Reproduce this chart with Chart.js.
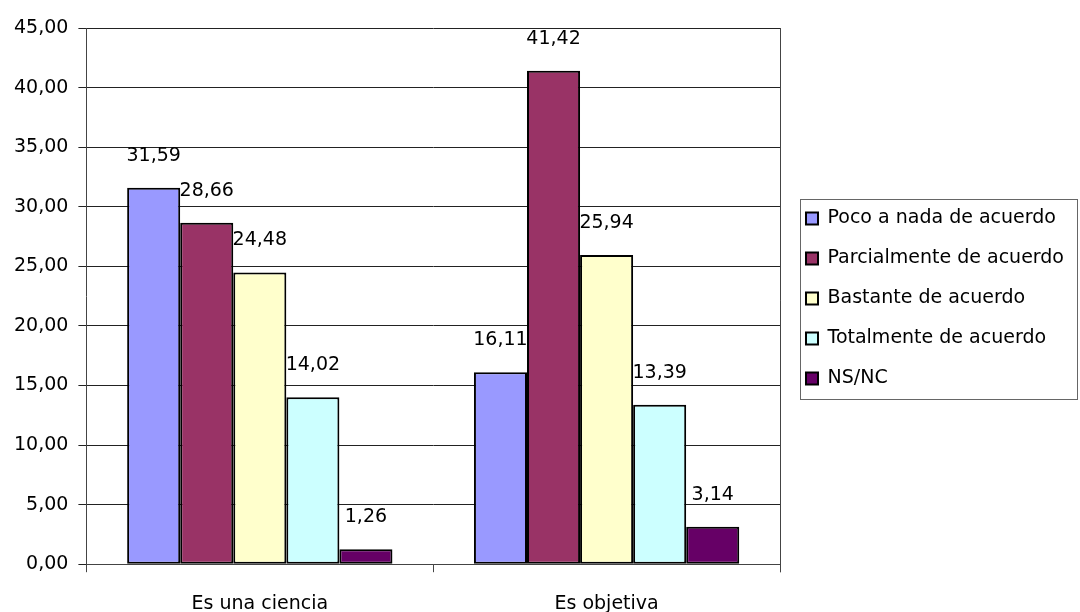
<!DOCTYPE html>
<html>
<head>
<meta charset="utf-8">
<script src="https://cdn.jsdelivr.net/npm/chart.js@4.4.0/dist/chart.umd.min.js"></script>
<style>
  html, body { margin: 0; padding: 0; background: #fff; }
  #wrap { width: 1080px; height: 612px; }
</style>
</head>
<body>
<div id="wrap"><canvas id="barChart"></canvas></div>
<script>
var categorias = ['Es una ciencia', 'Es objetiva'];
var series = ['Poco a nada de acuerdo', 'Parcialmente de acuerdo', 'Bastante de acuerdo', 'Totalmente de acuerdo', 'NS/NC'];
var pocoNada = [31.59, 16.11];
var parcialmente = [28.66, 41.42];
var bastante = [24.48, 25.94];
var totalmente = [14.02, 13.39];
var nsnc = [1.26, 3.14];
var yTicks = [0, 5, 10, 15, 20, 25, 30, 35, 40, 45];

var valores = [pocoNada, parcialmente, bastante, totalmente, nsnc];
var colores = ['#9999FF', '#993366', '#FFFFCC', '#CCFFFF', '#660066'];

function coma(v) {
	return v.toFixed(2).replace('.', ',');
}

var fuente = '"DejaVu Sans", Verdana, sans-serif';
Chart.defaults.font.family = fuente;
Chart.defaults.font.size = 19;
Chart.defaults.color = '#000';

// etiquetas de valor encima de cada barra
var etiquetas = {
	id: 'etiquetas',
	afterDatasetsDraw: function(chart) {
		var ctx = chart.ctx;
		ctx.save();
		ctx.font = '19px ' + fuente;
		ctx.fillStyle = '#000';
		ctx.textAlign = 'center';
		ctx.textBaseline = 'middle';
		chart.data.datasets.forEach(function(ds, i) {
			chart.getDatasetMeta(i).data.forEach(function(bar, j) {
				ctx.fillText(coma(ds.data[j]), bar.x, bar.y - 32);
			});
		});
		ctx.restore();
	}
};

// borde derecho del area y recuadro de la leyenda
var marcos = {
	id: 'marcos',
	beforeInit: function(chart) {
		var fitOrig = chart.legend.fit;
		chart.legend.fit = function() {
			fitOrig.call(this);
			this.width = 296;
		};
	},
	afterLayout: function(chart) {
		// la leyenda va un poco mas arriba y a la derecha
		var lg = chart.legend;
		lg.top -= 33;
		lg.bottom -= 33;
		lg.left += 5;
		lg.right += 5;
	},
	afterDraw: function(chart) {
		var ctx = chart.ctx;
		var a = chart.chartArea;
		ctx.save();
		ctx.strokeStyle = '#444';
		ctx.lineWidth = 1;
		ctx.beginPath();
		ctx.moveTo(Math.round(a.right) + 0.5, a.top);
		ctx.lineTo(Math.round(a.right) + 0.5, a.bottom + 8);
		ctx.stroke();

		var hb = chart.legend.legendHitBoxes;
		if (hb && hb.length) {
			var top = hb[0].top - 10;
			var bottom = hb[hb.length - 1].top + hb[hb.length - 1].height + 11;
			ctx.strokeStyle = '#666';
			ctx.strokeRect(800.5, Math.round(top) + 0.5, 277, Math.round(bottom - top));
		}
		ctx.restore();
	}
};

var context = document.getElementById('barChart').getContext('2d');
var myChart = new Chart(context, {
	type: 'bar',
	data: {
		labels: categorias,
		datasets: series.map(function(nombre, i) {
			return {
				label: nombre,
				data: valores[i],
				backgroundColor: colores[i],
				borderColor: '#000',
				borderWidth: 2,
				borderSkipped: false,
				categoryPercentage: 0.765,
				barPercentage: 1.0
			};
		})
	},
	options: {
		responsive: true,
		maintainAspectRatio: false,
		animation: false,
		layout: { padding: { top: 28, right: 4, left: 4, bottom: -23 } },
		scales: {
			x: {
				offset: true,
				grid: {
					offset: true,
					drawOnChartArea: false,
					drawTicks: true,
					tickLength: 8,
					color: '#444'
				},
				border: { color: '#444', width: 1 },
				ticks: { padding: 20, font: { size: 19 } }
			},
			y: {
				min: 0,
				max: 45,
				afterBuildTicks: function(axis) {
					axis.ticks = yTicks.map(function(v) { return { value: v }; });
				},
				grid: {
					color: '#222',
					lineWidth: 1,
					tickLength: 8
				},
				border: { color: '#444', width: 1 },
				ticks: {
					padding: 10,
					font: { size: 19 },
					callback: function(v) { return coma(v); }
				}
			}
		},
		plugins: {
			legend: {
				position: 'right',
				labels: {
					boxWidth: 12,
					boxHeight: 12,
					padding: 21,
					font: { size: 19 },
					color: '#000'
				}
			},
			tooltip: { enabled: false }
		}
	},
	plugins: [etiquetas, marcos]
});
</script>
</body>
</html>
